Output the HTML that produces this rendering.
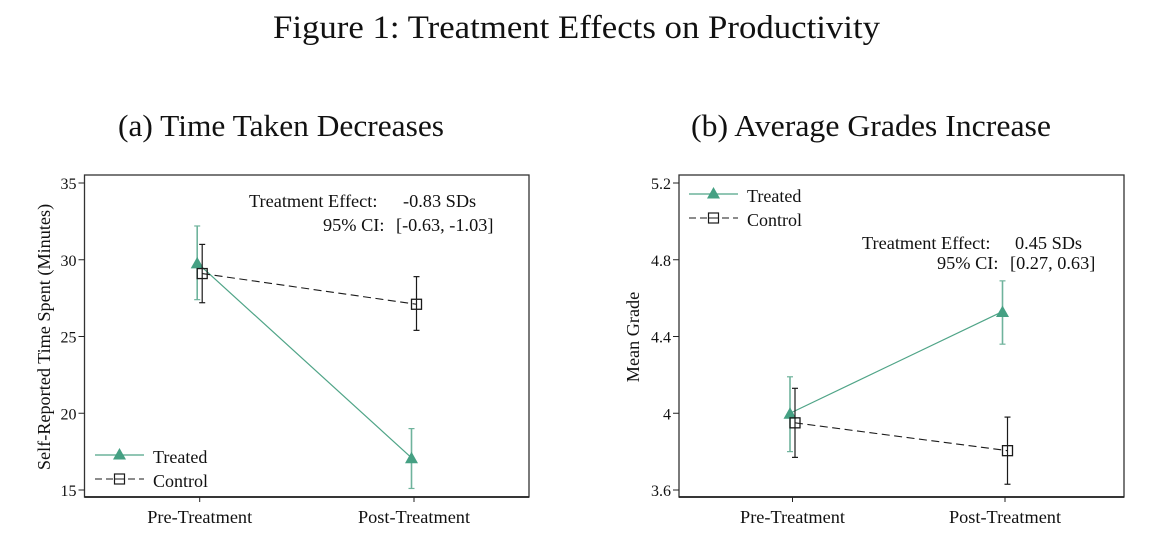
<!DOCTYPE html>
<html><head><meta charset="utf-8"><title>Figure 1</title>
<style>
html,body{margin:0;padding:0;background:#fff;width:1154px;height:534px;overflow:hidden}
svg{display:block}
text{font-family:"Liberation Serif",serif;fill:#111}
</style></head>
<body>
<svg id="fig" width="1154" height="534" viewBox="0 0 1154 534" xmlns="http://www.w3.org/2000/svg">
<text x="576.5" y="38" text-anchor="middle" font-size="33" textLength="607" lengthAdjust="spacingAndGlyphs">Figure 1: Treatment Effects on Productivity</text>
<text x="281" y="136" text-anchor="middle" font-size="31" textLength="326" lengthAdjust="spacingAndGlyphs">(a) Time Taken Decreases</text>
<text x="871" y="136" text-anchor="middle" font-size="31" textLength="360" lengthAdjust="spacingAndGlyphs">(b) Average Grades Increase</text>
</svg>
<script>
var NS = 'http://www.w3.org/2000/svg';
var categories = ['Pre-Treatment', 'Post-Treatment'];

var aTicks = [15, 20, 25, 30, 35];
var aTreated = [29.8, 17.1];
var aTreatedLow = [27.4, 15.1];
var aTreatedHigh = [32.2, 19.0];
var aControl = [29.1, 27.1];
var aControlLow = [27.2, 25.4];
var aControlHigh = [31.0, 28.9];

var bTicks = [3.6, 4.0, 4.4, 4.8, 5.2];
var bTickLabels = ['3.6', '4', '4.4', '4.8', '5.2'];
var bTreated = [4.0, 4.53];
var bTreatedLow = [3.80, 4.36];
var bTreatedHigh = [4.19, 4.69];
var bControl = [3.95, 3.805];
var bControlLow = [3.77, 3.63];
var bControlHigh = [4.13, 3.98];

var svg = document.getElementById('fig');
var TEAL = '#4fa487', TEALFILL = '#45a083', INK = '#1a1a1a';

function add(tag, attrs, parent, txt) {
  var e = document.createElementNS(NS, tag);
  for (var k in attrs) e.setAttribute(k, attrs[k]);
  if (txt !== undefined) e.textContent = txt;
  (parent || svg).appendChild(e);
  return e;
}

function tri(g, x, y) {
  return add('polygon', {points: (x - 6.5) + ',' + (y + 5.5) + ' ' + x + ',' + (y - 6) + ' ' + (x + 6.5) + ',' + (y + 5.5), fill: TEALFILL}, g);
}
function sq(g, x, y) {
  return add('rect', {x: x - 5, y: y - 5, width: 10, height: 10, fill: 'none', stroke: INK, 'stroke-width': 1.3}, g);
}
function err(g, x, lo, hi, col, w) {
  add('line', {x1: x, x2: x, y1: lo, y2: hi, stroke: col, 'stroke-width': w}, g);
  add('line', {x1: x - 3, x2: x + 3, y1: lo, y2: lo, stroke: col, 'stroke-width': 1.2}, g);
  add('line', {x1: x - 3, x2: x + 3, y1: hi, y2: hi, stroke: col, 'stroke-width': 1.2}, g);
}

function legend(panel, x, yT, yC) {
  var r1 = add('g', {}, panel);
  
  
  add('line', {x1: x, x2: x + 49, y1: yT, y2: yT, stroke: TEAL, 'stroke-width': 1.2}, r1);
  tri(r1, x + 24.5, yT - 1);
  add('text', {x: x + 58, y: yT + 8, 'font-size': 18}, r1, 'Treated');
  var r2 = add('g', {}, panel);
  
  
  add('line', {x1: x, x2: x + 49, y1: yC, y2: yC, stroke: INK, 'stroke-width': 1.1, 'stroke-dasharray': '7 4'}, r2);
  add('rect', {x: x + 19.5, y: yC - 5, width: 10, height: 10, fill: '#fff', stroke: INK, 'stroke-width': 1.2}, r2);
  add('line', {x1: x + 19.5, x2: x + 29.5, y1: yC, y2: yC, stroke: INK, 'stroke-width': 1}, r2);
  add('text', {x: x + 58, y: yC + 8, 'font-size': 18}, r2, 'Control');
}

function panel(cfg) {
  var g = add('g', {});
  
  
  var L = cfg.left, R = cfg.right, T = 175, B = 497;
  function sx(i) { return cfg.x0 + i * (cfg.x1 - cfg.x0); }
  function sy(v) { return 490 - (v - cfg.min) / (cfg.max - cfg.min) * 307; }

  var box = add('rect', {x: L, y: T, width: R - L, height: B - T, fill: '#fff', stroke: '#333', 'stroke-width': 1.3}, g);
  
  
  add('line', {x1: L, x2: R, y1: B, y2: B, stroke: '#222', 'stroke-width': 1.8}, g);

  cfg.ticks.forEach(function (t, i) {
    var y = sy(t);
    add('line', {x1: L - 6, x2: L, y1: y, y2: y, stroke: '#222', 'stroke-width': 1}, g);
    var lab = add('text', {x: L - 8, y: y + 6, 'text-anchor': 'end', 'font-size': 16}, g, cfg.tickLabels[i]);
    
    
  });
  categories.forEach(function (c, i) {
    var x = sx(i);
    add('line', {x1: x, x2: x, y1: B, y2: B + 5, stroke: '#222', 'stroke-width': 1}, g);
    var lab = add('text', {x: x, y: 523, 'text-anchor': 'middle', 'font-size': 18.3}, g, c);
    
    
  });
  var yt = add('text', {transform: 'translate(' + cfg.ylabelX + ',' + cfg.ylabelY + ') rotate(-90)', 'text-anchor': 'middle', 'font-size': 18.2}, g, cfg.ylabel);
  
  

  var off = 2.5;
  var tg = add('g', {}, g);
  
  
  var cg = add('g', {}, g);
  
  

  add('line', {x1: sx(0) - off, y1: sy(cfg.treated[0]), x2: sx(1) - off, y2: sy(cfg.treated[1]), stroke: TEAL, 'stroke-width': 1.2}, tg);
  cfg.treated.forEach(function (v, i) {
    err(tg, sx(i) - off, sy(cfg.treatedLow[i]), sy(cfg.treatedHigh[i]), '#6fb39c', 1.6);
    tri(tg, sx(i) - off, sy(v));
  });
  add('line', {x1: sx(0) + off, y1: sy(cfg.control[0]), x2: sx(1) + off, y2: sy(cfg.control[1]), stroke: INK, 'stroke-width': 1.1, 'stroke-dasharray': '8 4.5'}, cg);
  cfg.control.forEach(function (v, i) {
    err(cg, sx(i) + off, sy(cfg.controlLow[i]), sy(cfg.controlHigh[i]), INK, 1.2);
    sq(cg, sx(i) + off, sy(v));
  });

  legend(g, cfg.legX, cfg.legY1, cfg.legY2);

  var a1 = add('g', {}, g);
  
  
  add('text', {x: cfg.noteX1, y: cfg.noteY, 'font-size': 18.3}, a1, 'Treatment Effect:');
  add('text', {x: cfg.noteX2, y: cfg.noteY, 'font-size': 18.3}, a1, cfg.effect);
  add('text', {x: cfg.noteX3, y: cfg.noteY + cfg.noteGap, 'font-size': 18.3}, a1, '95% CI:');
  add('text', {x: cfg.noteX4, y: cfg.noteY + cfg.noteGap, 'font-size': 18.3}, a1, cfg.ci);
}

panel({
  name: 'panel-a-time-taken', left: 84.5, right: 529, x0: 199.7, x1: 414,
  min: 15, max: 35, ticks: aTicks, tickLabels: aTicks.map(String),
  treated: aTreated, treatedLow: aTreatedLow, treatedHigh: aTreatedHigh,
  control: aControl, controlLow: aControlLow, controlHigh: aControlHigh,
  ylabel: 'Self-Reported Time Spent (Minutes)', ylabelX: 50, ylabelY: 337,
  legX: 95, legY1: 455, legY2: 479,
  noteX1: 249, noteX2: 403, noteX3: 323, noteX4: 396, noteY: 207, noteGap: 24,
  effect: '-0.83 SDs', ci: '[-0.63, -1.03]'
});
panel({
  name: 'panel-b-grades', left: 679, right: 1124, x0: 792.5, x1: 1005,
  min: 3.6, max: 5.2, ticks: bTicks, tickLabels: bTickLabels,
  treated: bTreated, treatedLow: bTreatedLow, treatedHigh: bTreatedHigh,
  control: bControl, controlLow: bControlLow, controlHigh: bControlHigh,
  ylabel: 'Mean Grade', ylabelX: 639, ylabelY: 337,
  legX: 689, legY1: 194, legY2: 218,
  noteX1: 862, noteX2: 1015, noteX3: 937, noteX4: 1010, noteY: 249, noteGap: 20,
  effect: '0.45 SDs', ci: '[0.27, 0.63]'
});
</script>
</body></html>
